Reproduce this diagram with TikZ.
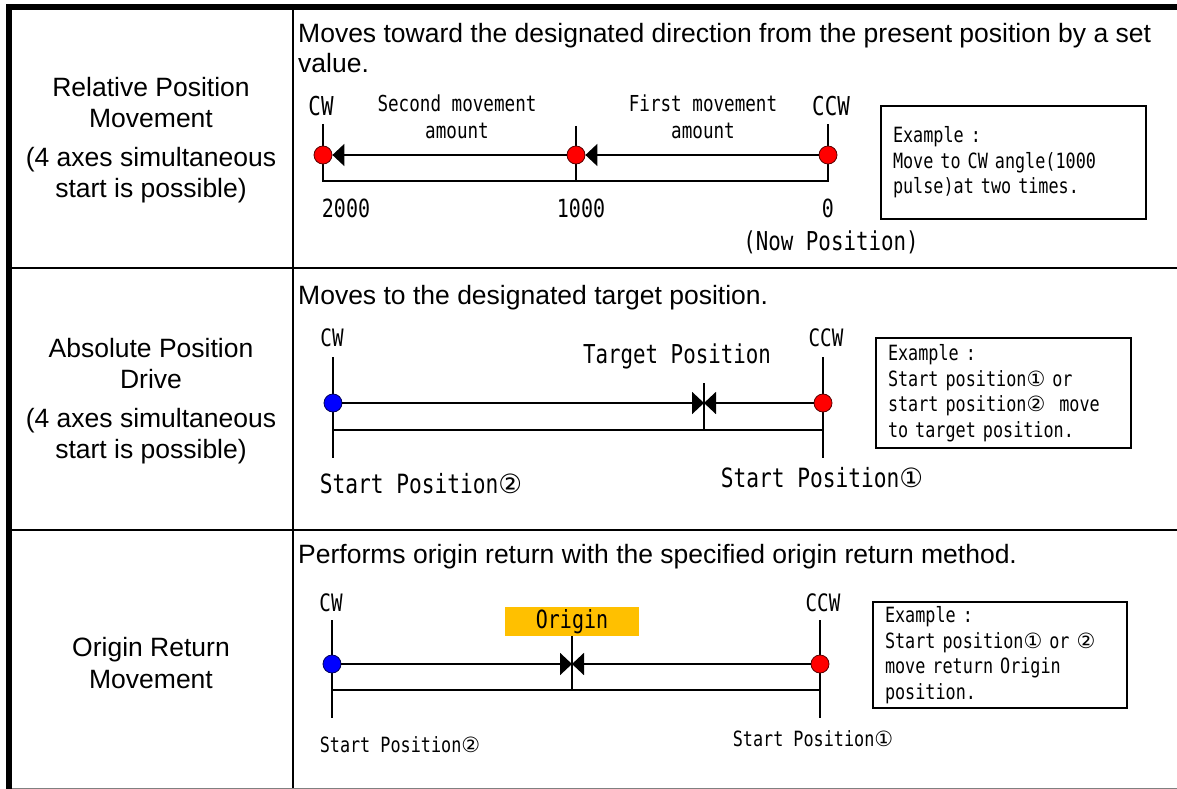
\documentclass[tikz,border=0pt]{standalone}
\usepackage{fontspec}
\setmainfont{Liberation Sans}
\newfontfamily\gothicfont[FakeStretch=0.8]{DejaVu Sans Mono}
\newfontfamily\circfont{DejaVu Sans}
\usetikzlibrary{arrows.meta}
\definecolor{originfill}{HTML}{FFC000}
\definecolor{dotred}{HTML}{FF0000}
\definecolor{dotblue}{HTML}{0000FF}
\newcommand\cone{{\circfont ①}}
\newcommand\ctwo{{\circfont ②}}
\newcommand\gsz[2]{\gothicfont\fontsize{#1}{#2}\selectfont}
\begin{document}
\begin{tikzpicture}[x=1pt,y=-1pt,
  every node/.style={inner sep=0pt},
  mlabel/.style={align=center,font=\fontsize{26.5}{31.5}\selectfont},
  desc/.style={anchor=west,align=left,font=\fontsize{26.5}{30}\selectfont},
  gtext/.style={font={\gsz{#1}{27}}},
  ln/.style={line width=2pt},
  arr/.style={line width=2pt,-{Triangle[length=12pt,width=22pt]}},
  rdot/.style={circle,fill=dotred,draw=black!65!red,line width=0.8pt,minimum size=18pt},
  bdot/.style={circle,fill=dotblue,draw=black!65!blue,line width=0.8pt,minimum size=18pt},
  exbox/.style={draw,line width=1.6pt,align=left,inner xsep=12pt,font={\gsz{21}{25.5}}}
]
\useasboundingbox (0,0) rectangle (1177,789);
% table
\fill (6,4) rectangle (1177,10);
\fill (6,4) rectangle (12,789);
\draw[line width=2pt] (293,10) -- (293,789);
\draw[line width=2pt] (12,268) -- (1177,268);
\draw[line width=2pt] (12,530) -- (1177,530);
\draw[line width=1pt,gray] (12,788) -- (1177,788);

% left column
\node[mlabel] (lab1) at (151,140) {Relative Position\\Movement\\[7pt](4 axes simultaneous\\start is possible)};
\node[mlabel] (lab2) at (151,401) {Absolute Position\\Drive\\[7pt](4 axes simultaneous\\start is possible)};
\node[mlabel] (lab3) at (151,663) {Origin Return\\Movement};

% descriptions
\node[desc] (desc1) at (298,48) {Moves toward the designated direction from the present position by a set\\value.};
\node[desc] (desc2) at (298,298) {Moves to the designated target position.};
\node[desc] (desc3) at (298,557) {Performs origin return with the specified origin return method.};

% ---------- row 1 ----------
\node[gtext=26] (r1cw) at (321,106) {CW};
\node[gtext=26] (r1ccw) at (831,106) {CCW};
\node[gtext=22,align=center] (r1sec) at (457,117) {Second movement\\amount};
\node[gtext=22,align=center] (r1fst) at (703,117) {First movement\\amount};
\coordinate (r1cwT) at (323,124); \coordinate (r1cwB) at (323,181);
\coordinate (r1mT) at (576,126); \coordinate (r1mB) at (576,181);
\coordinate (r1ccT) at (828,124); \coordinate (r1ccB) at (828,181);
\draw[ln] (r1cwT) -- (r1cwB) -- (r1ccB) -- (r1ccT);
\draw[ln] (r1mT) -- (r1mB);
\node[rdot] (r1a) at (323,155) {};
\node[rdot] (r1b) at (576,155) {};
\node[rdot] (r1c) at (828,155) {};
\draw[arr] (r1c) -- (r1b);
\draw[arr] (r1b) -- (r1a);
\node[gtext=25] (r1n2) at (346,208) {2000};
\node[gtext=25] (r1n1) at (581,208) {1000};
\node[gtext=25] (r1n0) at (828,208) {0};
\node[gtext=26] (r1now) at (831,242) {(Now Position)};
\node[exbox,minimum width=265pt,minimum height=113pt,text width=241pt] (ex1) at (1013.5,162.5)
  {Example :\\Move to CW angle(1000\\pulse)at two times.};

% ---------- row 2 ----------
\node[gtext=24] (r2cw) at (332,338) {CW};
\node[gtext=24] (r2ccw) at (826,338) {CCW};
\node[gtext=26] (r2tgt) at (677,356) {Target Position};
\coordinate (r2cwT) at (333,357); \coordinate (r2cwB) at (333,458);
\coordinate (r2ccT) at (823,357); \coordinate (r2ccB) at (823,458);
\coordinate (r2L) at (333,430); \coordinate (r2R) at (823,430);
\coordinate (r2tT) at (704,383); \coordinate (r2tB) at (704,430);
\coordinate (r2t) at (704,403);
\draw[ln] (r2cwT) -- (r2cwB);
\draw[ln] (r2ccT) -- (r2ccB);
\draw[ln] (r2L) -- (r2R);
\draw[ln] (r2tT) -- (r2tB);
\node[bdot] (r2a) at (333,403) {};
\node[rdot] (r2b) at (823,403) {};
\draw[arr] (r2a) -- (r2t);
\draw[arr] (r2b) -- (r2t);
\node[gtext=26.5] (r2s2) at (421,484) {Start Position\ctwo};
\node[gtext=26.5] (r2s1) at (822,478) {Start Position\cone};
\node[exbox,minimum width=255pt,minimum height=110pt,text width=231pt] (ex2) at (1003.5,393)
  {Example :\\Start position\cone{} or\\start position\ctwo{}\ \ move\\to target position.};

% ---------- row 3 ----------
\node[gtext=24] (r3cw) at (331,603) {CW};
\node[gtext=24] (r3ccw) at (823,603) {CCW};
\node[gtext=25,fill=originfill,minimum width=134pt,minimum height=29pt] (r3org) at (572,621.5) {Origin};
\coordinate (r3cwT) at (332,620); \coordinate (r3cwB) at (332,718);
\coordinate (r3ccT) at (820,620); \coordinate (r3ccB) at (820,718);
\coordinate (r3L) at (332,690); \coordinate (r3R) at (820,690);
\coordinate (r3oB) at (572,690);
\coordinate (r3t) at (572,664);
\draw[ln] (r3cwT) -- (r3cwB);
\draw[ln] (r3ccT) -- (r3ccB);
\draw[ln] (r3L) -- (r3R);
\draw[ln] (r3org.south) -- (r3oB);
\node[bdot] (r3a) at (332,664) {};
\node[rdot] (r3b) at (820,664) {};
\draw[arr] (r3a) -- (r3t);
\draw[arr] (r3b) -- (r3t);
\node[gtext=21] (r3s2) at (400,745) {Start Position\ctwo};
\node[gtext=21] (r3s1) at (813,739) {Start Position\cone};
\node[exbox,minimum width=254pt,minimum height=106pt,text width=230pt] (ex3) at (1000,655)
  {Example :\\Start position\cone{} or \ctwo\\move return Origin\\position.};
\end{tikzpicture}
\end{document}
